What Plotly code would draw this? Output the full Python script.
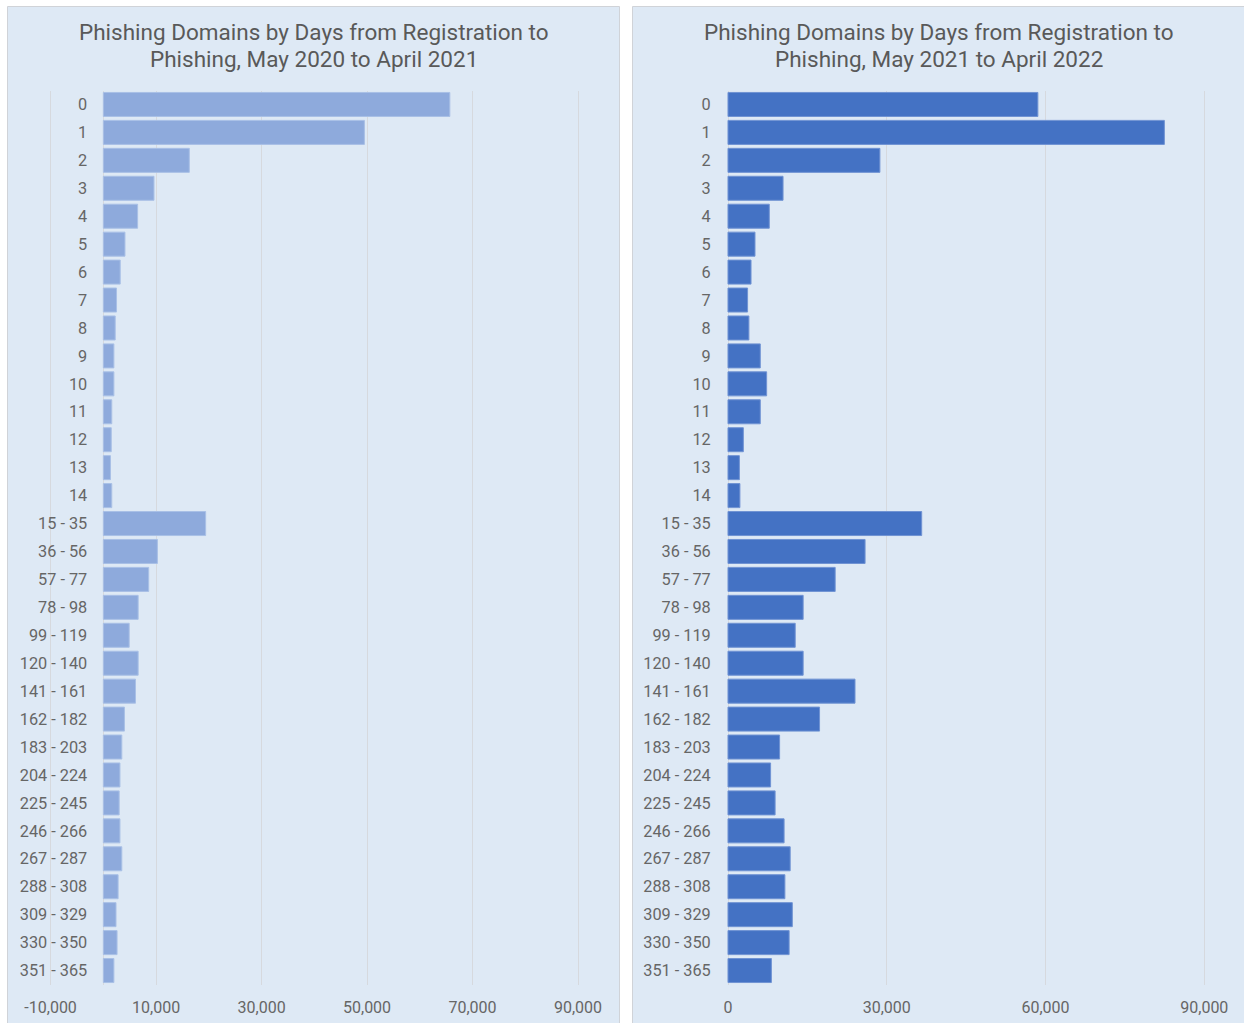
import plotly.graph_objects as go

categories = ["0", "1", "2", "3", "4", "5", "6", "7", "8", "9", "10", "11", "12", "13", "14",
              "15 - 35", "36 - 56", "57 - 77", "78 - 98", "99 - 119", "120 - 140", "141 - 161",
              "162 - 182", "183 - 203", "204 - 224", "225 - 245", "246 - 266", "267 - 287",
              "288 - 308", "309 - 329", "330 - 350", "351 - 365"]

values_2020 = [65700, 49500, 16300, 9600, 6500, 4100, 3200, 2500, 2250, 2000, 2000, 1600, 1500, 1350, 1600,
               19400, 10250, 8600, 6600, 4900, 6600, 6100, 4000, 3500, 3150, 3000, 3150, 3500,
               2800, 2400, 2600, 2000]

values_2021 = [58550, 82450, 28700, 10400, 7800, 5100, 4350, 3700, 3950, 6100, 7300, 6100, 2900, 2150, 2250,
               36600, 25900, 20250, 14200, 12700, 14200, 24000, 17300, 9750, 8050, 8900, 10600, 11750,
               10750, 12150, 11550, 8200]

title_2020 = ["Phishing Domains by Days from Registration to", "Phishing, May 2020 to April 2021"]
title_2021 = ["Phishing Domains by Days from Registration to", "Phishing, May 2021 to April 2022"]

ticks_left = [-10000, 10000, 30000, 50000, 70000, 90000]
ticklabels_left = ["-10,000", "10,000", "30,000", "50,000", "70,000", "90,000"]
ticks_right = [0, 30000, 60000, 90000]
ticklabels_right = ["0", "30,000", "60,000", "90,000"]

W, H = 1244, 1023


def px(x):
    return x / W


def py(y):
    return 1 - y / H


FONT = "Roboto"
TICK_COLOR = "#666666"
GRID = "#d6d9de"
PANEL = "#dee9f5"

fig = go.Figure()

fig.add_trace(go.Bar(
    y=categories, x=values_2020, orientation="h",
    marker=dict(color="#8eaadc", line=dict(color="#a9c0e6", width=1)),
    xaxis="x", yaxis="y", showlegend=False, hoverinfo="x+y"))

fig.add_trace(go.Bar(
    y=categories, x=values_2021, orientation="h",
    marker=dict(color="#4472c4", line=dict(color="#7093d3", width=1)),
    xaxis="x2", yaxis="y2", showlegend=False, hoverinfo="x+y"))

ydom = [py(984.5), py(90.5)]

common_x = dict(showgrid=True, gridcolor=GRID, gridwidth=1, zeroline=True, zerolinecolor=GRID,
                zerolinewidth=1, showline=False, ticks="outside", ticklen=8,
                tickcolor="rgba(0,0,0,0)", automargin=False,
                tickfont=dict(family=FONT, size=16, color=TICK_COLOR), fixedrange=True)
common_y = dict(type="category", autorange="reversed", showgrid=False, zeroline=False, showline=False,
                ticks="outside", ticklen=14, tickcolor="rgba(0,0,0,0)", automargin=False,
                tickfont=dict(family=FONT, size=16.3, color=TICK_COLOR), fixedrange=True)

annotations = []
for title, cx in ((title_2020, 314), (title_2021, 939)):
    for line, cy in zip(title, (32, 59)):
        annotations.append(dict(text=line, xref="paper", yref="paper", x=px(cx), y=py(cy),
                                xanchor="center", yanchor="middle", showarrow=False,
                                font=dict(family=FONT, size=22.5, color="#595959")))

fig.update_layout(
    width=W, height=H,
    margin=dict(l=0, r=0, t=0, b=0, autoexpand=False),
    paper_bgcolor="white",
    plot_bgcolor="rgba(0,0,0,0)",
    bargap=0.14,
    font=dict(family=FONT, color=TICK_COLOR),
    xaxis=dict(domain=[px(47.96), px(580.64)], range=[-10500, 90500], tickmode="array",
               tickvals=ticks_left, ticktext=ticklabels_left, anchor="y", **common_x),
    yaxis=dict(domain=ydom, anchor="free", position=px(104.5), **common_y),
    xaxis2=dict(domain=[px(725.35), px(1206.95)], range=[-500, 90500], tickmode="array",
                tickvals=ticks_right, ticktext=ticklabels_right, anchor="y2", **common_x),
    yaxis2=dict(domain=ydom, anchor="free", position=px(728), **common_y),
    shapes=[
        dict(type="rect", xref="paper", yref="paper", x0=px(7.5), x1=px(619.5), y0=py(1030), y1=py(6.5),
             fillcolor=PANEL, line=dict(color="#d0d3d8", width=1), layer="below"),
        dict(type="rect", xref="paper", yref="paper", x0=px(632.5), x1=px(1250), y0=py(1030), y1=py(6.5),
             fillcolor=PANEL, line=dict(color="#d0d3d8", width=1), layer="below"),
    ],
    annotations=annotations,
)

fig.write_html("out.html", config={"displayModeBar": False},
               post_script="document.body.style.margin='0';document.body.style.overflow='hidden';")
